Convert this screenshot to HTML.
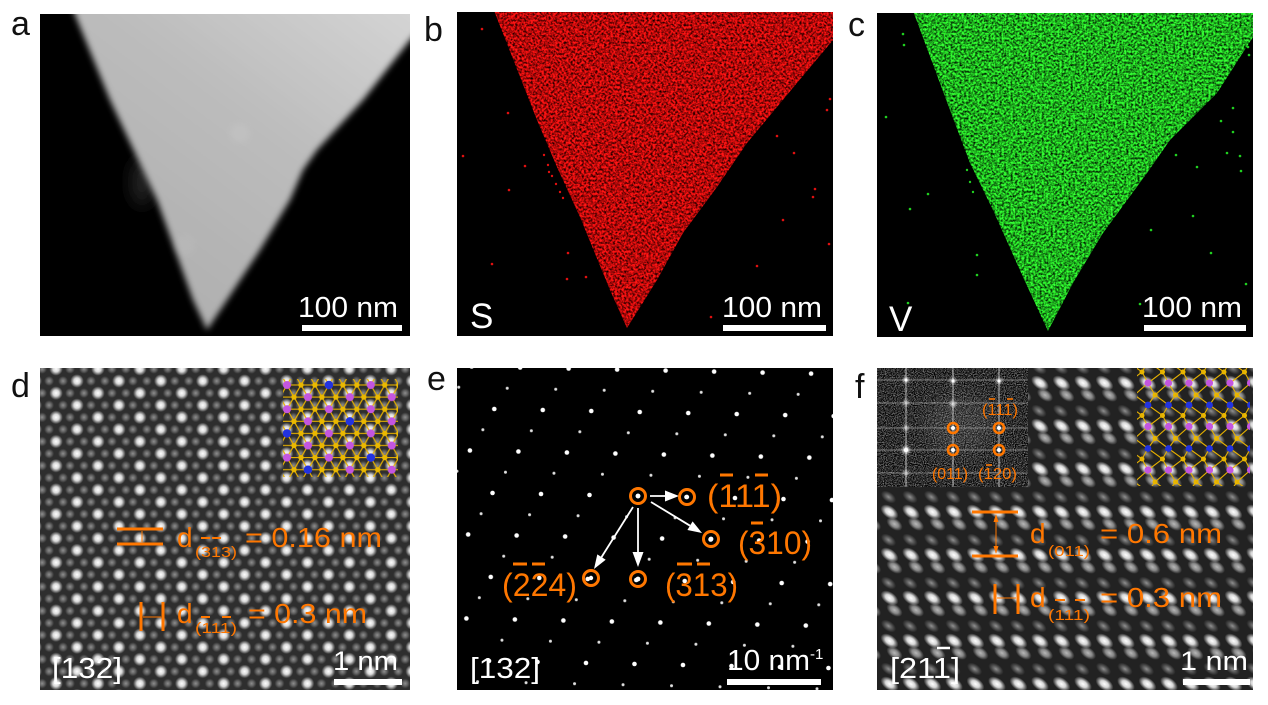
<!DOCTYPE html>
<html><head><meta charset="utf-8"><style>
html,body{margin:0;padding:0;background:#fff;}
svg{display:block;}
text{font-family:"Liberation Sans",Arial,sans-serif;}
</style></head><body>
<svg width="1268" height="705" viewBox="0 0 1268 705" xmlns="http://www.w3.org/2000/svg" xmlns:xlink="http://www.w3.org/1999/xlink">
<defs>
 <filter id="fa" filterUnits="userSpaceOnUse" x="30" y="0" width="400" height="350"><feGaussianBlur stdDeviation="3.2"/></filter>
 <filter id="fa2" filterUnits="userSpaceOnUse" x="30" y="0" width="400" height="350"><feGaussianBlur stdDeviation="8"/></filter>
 <linearGradient id="ga" x1="0.2" y1="1" x2="1" y2="0">
  <stop offset="0" stop-color="#adadad"/><stop offset="0.55" stop-color="#bcbcbc"/><stop offset="1" stop-color="#d6d6d6"/>
 </linearGradient>
 <clipPath id="ca"><rect x="40" y="14" width="370" height="322"/></clipPath>

 <filter id="fr" filterUnits="userSpaceOnUse" x="457" y="12" width="376" height="324" color-interpolation-filters="sRGB">
  <feTurbulence type="fractalNoise" baseFrequency="0.45" numOctaves="2" seed="7" result="t"/>
  <feColorMatrix in="t" type="matrix" values="2.0 0 0 0 -0.3  0.2 0 0 0 -0.06  0.2 0 0 0 -0.06  0 0 0 0 1" result="c"/>
  <feComposite in="c" in2="SourceAlpha" operator="in"/>
 </filter>
 <filter id="fg" filterUnits="userSpaceOnUse" x="877" y="13" width="376" height="324" color-interpolation-filters="sRGB">
  <feTurbulence type="fractalNoise" baseFrequency="0.45" numOctaves="2" seed="11" result="t"/>
  <feColorMatrix in="t" type="matrix" values="0.4 0 0 0 -0.08  2.0 0 0 0 -0.32  0.4 0 0 0 -0.08  0 0 0 0 1" result="c"/>
  <feComposite in="c" in2="SourceAlpha" operator="in"/>
 </filter>
 <clipPath id="cb"><rect x="457" y="12" width="376" height="324"/></clipPath>
 <clipPath id="cc"><rect x="877" y="13" width="376" height="324"/></clipPath>

 <radialGradient id="gB"><stop offset="0" stop-color="#ffffff"/><stop offset="0.45" stop-color="#ececec" stop-opacity="0.9"/><stop offset="1" stop-color="#dddddd" stop-opacity="0"/></radialGradient>
 <radialGradient id="gM"><stop offset="0" stop-color="#b8b8b8"/><stop offset="0.5" stop-color="#a2a2a2" stop-opacity="0.8"/><stop offset="1" stop-color="#999999" stop-opacity="0"/></radialGradient>
 <radialGradient id="gMd"><stop offset="0" stop-color="#909090"/><stop offset="0.5" stop-color="#7a7a7a" stop-opacity="0.7"/><stop offset="1" stop-color="#707070" stop-opacity="0"/></radialGradient>
 <radialGradient id="gF"><stop offset="0" stop-color="#909090"/><stop offset="1" stop-color="#808080" stop-opacity="0"/></radialGradient>

 <pattern id="pd" patternUnits="userSpaceOnUse" x="70" y="375" width="41.9" height="24.2">
  <rect width="41.9" height="24.2" fill="#2e2e2e"/>
  <circle cx="20.97" cy="6" r="5" fill="url(#gMd)"/>
  <circle cx="34.93" cy="6" r="5" fill="url(#gMd)"/>
  <circle cx="13.98" cy="18.1" r="5" fill="url(#gMd)"/>
  <circle cx="0" cy="18.1" r="5" fill="url(#gMd)"/>
  <circle cx="41.9" cy="18.1" r="5" fill="url(#gMd)"/>
  <circle cx="7" cy="6" r="6.8" fill="url(#gB)"/>
  <circle cx="7" cy="30.2" r="6.8" fill="url(#gB)"/>
  <circle cx="27.95" cy="18.1" r="6.8" fill="url(#gB)"/>
  <circle cx="27.95" cy="-6.1" r="6.8" fill="url(#gB)"/>
 </pattern>

 <pattern id="pf" patternUnits="userSpaceOnUse" x="1034" y="375" width="21.5" height="43">
  <rect width="21.5" height="43" fill="#222222"/>
  <g id="fcell">
   <ellipse cx="5" cy="36" rx="8.5" ry="5" transform="rotate(35 5 36)" fill="url(#gF)"/>
   <ellipse cx="11" cy="20" rx="9" ry="5.5" transform="rotate(35 11 20)" fill="url(#gM)"/>
   <ellipse cx="6" cy="8" rx="10" ry="6" transform="rotate(35 6 8)" fill="url(#gB)"/>
  </g>
  <use href="#fcell" xlink:href="#fcell" x="21.5"/>
  <use href="#fcell" xlink:href="#fcell" x="-21.5"/>
  <use href="#fcell" xlink:href="#fcell" y="43"/>
  <use href="#fcell" xlink:href="#fcell" y="-43"/>
  <use href="#fcell" xlink:href="#fcell" x="21.5" y="-43"/>
  <use href="#fcell" xlink:href="#fcell" x="-21.5" y="43"/>
 </pattern>

 <pattern id="pe" patternUnits="userSpaceOnUse" x="632" y="486" width="48.5" height="84" patternTransform="rotate(1.2 638 496)">
  <circle cx="6" cy="10" r="2.3" fill="#fff"/>
  <circle cx="31" cy="52" r="2.3" fill="#fff"/>
  <circle cx="18.5" cy="73" r="1.5" fill="#e0e0e0"/>
  <circle cx="43.5" cy="31" r="1.5" fill="#e0e0e0"/>
 </pattern>

 <pattern id="pdx" patternUnits="userSpaceOnUse" x="280" y="379" width="41.9" height="24.2">
  <g stroke="#e6b000" stroke-width="1.2">
   <line x1="-5" y1="6" x2="47" y2="6"/>
   <line x1="-5" y1="18.1" x2="47" y2="18.1"/>
   <line x1="-11.01" y1="-1" x2="4.11" y2="25.2"/>
   <line x1="2.96" y1="-1" x2="18.08" y2="25.2"/>
   <line x1="16.93" y1="-1" x2="32.05" y2="25.2"/>
   <line x1="30.9" y1="-1" x2="46.02" y2="25.2"/>
   <line x1="11.04" y1="-1" x2="-4.08" y2="25.2"/>
   <line x1="25.01" y1="-1" x2="9.89" y2="25.2"/>
   <line x1="38.98" y1="-1" x2="23.86" y2="25.2"/>
   <line x1="52.95" y1="-1" x2="37.83" y2="25.2"/>
  </g>
  <circle cx="20.97" cy="6" r="2.7" fill="#eab800"/>
  <circle cx="34.93" cy="6" r="2.7" fill="#eab800"/>
  <circle cx="0" cy="18.1" r="2.7" fill="#eab800"/>
  <circle cx="13.98" cy="18.1" r="2.7" fill="#eab800"/>
  <circle cx="41.9" cy="18.1" r="2.7" fill="#eab800"/>
  <circle cx="7" cy="6" r="4" fill="#c455e0"/>
  <circle cx="27.95" cy="18.1" r="4" fill="#c455e0"/>
 </pattern>
 <clipPath id="cdx"><rect x="283" y="379" width="115" height="98"/></clipPath>

 <pattern id="pfx" patternUnits="userSpaceOnUse" x="1138" y="372" width="20.5" height="43.5">
  <g id="fxc">
   <g stroke="#e6b000" stroke-width="1.1">
    <line x1="4" y1="0" x2="10" y2="11"/>
    <line x1="24.5" y1="0" x2="10" y2="11"/>
    <line x1="10" y1="11" x2="17" y2="23"/>
    <line x1="10" y1="11" x2="-3.5" y2="23"/>
    <line x1="17" y1="23" x2="10" y2="33"/>
    <line x1="-3.5" y1="23" x2="10" y2="33"/>
    <line x1="10" y1="33" x2="4" y2="43.5"/>
    <line x1="10" y1="33" x2="24.5" y2="43.5"/>
   </g>
   <circle cx="4" cy="0" r="2.5" fill="#eab800"/>
   <circle cx="4" cy="43.5" r="2.5" fill="#eab800"/>
   <circle cx="17" cy="23" r="2.5" fill="#eab800"/>
   <circle cx="10" cy="11" r="3.6" fill="#c455e0"/>
   <circle cx="10" cy="33" r="3.4" fill="#2233e0"/>
  </g>
  <use href="#fxc" xlink:href="#fxc" x="20.5"/>
  <use href="#fxc" xlink:href="#fxc" x="-20.5"/>
 </pattern>
 <clipPath id="cfx"><rect x="1137" y="368" width="113" height="118"/></clipPath>

 <filter id="fn" filterUnits="userSpaceOnUse" x="877" y="368" width="151" height="119" color-interpolation-filters="sRGB">
  <feTurbulence type="fractalNoise" baseFrequency="0.9" numOctaves="1" seed="2"/>
  <feColorMatrix type="matrix" values="1.3 0 0 0 -0.47  1.3 0 0 0 -0.47  1.3 0 0 0 -0.47  0 0 0 0 1"/>
 </filter>
 <filter id="fglow" x="-100%" y="-100%" width="300%" height="300%"><feGaussianBlur stdDeviation="1.5"/></filter>
 <filter id="fsoft" x="-50%" y="-50%" width="200%" height="200%"><feGaussianBlur stdDeviation="10"/></filter>
</defs>

<rect width="1268" height="705" fill="#fff"/>

<!-- Panel labels -->
<g font-size="34" fill="#111">
 <text x="11" y="35">a</text>
 <text x="424" y="41">b</text>
 <text x="848" y="36">c</text>
 <text x="11" y="397">d</text>
 <text x="427" y="390">e</text>
 <text x="855" y="398">f</text>
</g>

<!-- Panel a -->
<rect x="40" y="14" width="370" height="322" fill="#000"/>
<g clip-path="url(#ca)">
 <ellipse cx="142" cy="182" rx="10" ry="24" fill="#262626" filter="url(#fa2)"/>
 <polygon filter="url(#fa)" fill="url(#ga)" points="69,0 420,0 420,30 410,40 363,100 317,150 303,170 290,200 260,250 227,300 207,330 193,300 157,200 110,100"/>
 <circle cx="240" cy="133" r="10" fill="#d0d0d0" opacity="0.25" filter="url(#fa)"/>
 <circle cx="185" cy="245" r="10" fill="#c8c8c8" opacity="0.2" filter="url(#fa)"/>
</g>
<text x="298" y="317" font-size="29" fill="#fff" textLength="100" lengthAdjust="spacingAndGlyphs">100 nm</text>
<rect x="302" y="325" width="100" height="6" fill="#fff"/>

<!-- Panel b -->
<rect x="457" y="12" width="376" height="324" fill="#000"/>
<g clip-path="url(#cb)">
 <polygon fill="#fff" filter="url(#fr)" points="493,8 840,8 840,36 833,40 797,83 747,143 717,187 683,233 657,280 627,328 610,290 580,217 557,167 537,120"/>
 <g fill="#e01010">
  <circle cx="482" cy="29" r="1.3"/><circle cx="508" cy="113" r="1.3"/><circle cx="463" cy="156" r="1.3"/>
  <circle cx="525" cy="166" r="1.3"/><circle cx="509" cy="190" r="1.3"/><circle cx="568" cy="253" r="1.3"/>
  <circle cx="492" cy="264" r="1.3"/><circle cx="567" cy="279" r="1.3"/><circle cx="586" cy="277" r="1.3"/>
  <circle cx="830" cy="99" r="1.3"/><circle cx="827" cy="110" r="1.3"/><circle cx="777" cy="136" r="1.3"/>
  <circle cx="794" cy="153" r="1.3"/><circle cx="815" cy="189" r="1.3"/><circle cx="813" cy="197" r="1.3"/>
  <circle cx="783" cy="220" r="1.3"/><circle cx="829" cy="244" r="1.3"/><circle cx="757" cy="266" r="1.3"/>
  <circle cx="711" cy="317" r="1.3"/><circle cx="544" cy="155" r="1.2"/><circle cx="548" cy="165" r="1.2"/>
  <circle cx="552" cy="176" r="1.2"/><circle cx="556" cy="184" r="1.2"/><circle cx="560" cy="192" r="1.2"/>
  <circle cx="549" cy="172" r="1.2"/><circle cx="563" cy="198" r="1.2"/>
 </g>
</g>
<text x="470" y="328" font-size="35" fill="#fff">S</text>
<text x="722" y="317" font-size="29" fill="#fff" textLength="100" lengthAdjust="spacingAndGlyphs">100 nm</text>
<rect x="723" y="325" width="103" height="6" fill="#fff"/>

<!-- Panel c -->
<rect x="877" y="13" width="376" height="324" fill="#000"/>
<g clip-path="url(#cc)">
 <polygon fill="#fff" filter="url(#fg)" points="912,8 1260,8 1260,33 1253,37 1217,93 1170,140 1147,173 1103,233 1073,283 1048,331 1023,277 993,210 970,163 950,110"/>
 <g fill="#20d020">
  <circle cx="903" cy="34" r="1.3"/><circle cx="904" cy="45" r="1.3"/><circle cx="886" cy="117" r="1.3"/>
  <circle cx="928" cy="194" r="1.3"/><circle cx="910" cy="209" r="1.3"/><circle cx="977" cy="255" r="1.3"/>
  <circle cx="977" cy="275" r="1.3"/><circle cx="908" cy="303" r="1.3"/><circle cx="1233" cy="108" r="1.3"/>
  <circle cx="1221" cy="121" r="1.3"/><circle cx="1233" cy="132" r="1.3"/><circle cx="1227" cy="153" r="1.3"/>
  <circle cx="1240" cy="156" r="1.3"/><circle cx="1241" cy="171" r="1.3"/><circle cx="1197" cy="167" r="1.3"/>
  <circle cx="1176" cy="155" r="1.3"/><circle cx="1193" cy="216" r="1.3"/><circle cx="1151" cy="230" r="1.3"/>
  <circle cx="1211" cy="253" r="1.3"/><circle cx="1246" cy="284" r="1.3"/><circle cx="1140" cy="304" r="1.3"/>
  <circle cx="1248" cy="47" r="1.3"/><circle cx="1249" cy="55" r="1.3"/><circle cx="967" cy="170" r="1.2"/>
  <circle cx="970" cy="182" r="1.2"/><circle cx="973" cy="192" r="1.2"/>
 </g>
</g>
<text x="889" y="331" font-size="35" fill="#fff">V</text>
<text x="1142" y="317" font-size="29" fill="#fff" textLength="100" lengthAdjust="spacingAndGlyphs">100 nm</text>
<rect x="1144" y="325" width="102" height="6" fill="#fff"/>

<!-- Panel d -->
<rect x="40" y="368" width="370" height="322" fill="url(#pd)"/>
<g clip-path="url(#cdx)">
 <rect x="283" y="379" width="115" height="98" fill="url(#pdx)"/>
 <g fill="#2233e0">
  <circle cx="328.9" cy="385" r="4.2"/>
  <circle cx="349.85" cy="421.3" r="4.2"/>
  <circle cx="287" cy="433.4" r="4.2"/>
  <circle cx="370.8" cy="457.6" r="4.2"/>
  <circle cx="307.95" cy="469.7" r="4.2"/>
 </g>
</g>
<g stroke="#ff7700" fill="none">
 <line x1="117" y1="529" x2="163" y2="529" stroke-width="3"/>
 <line x1="117" y1="544" x2="163" y2="544" stroke-width="3"/>
 <line x1="142" y1="531" x2="142" y2="542" stroke-width="1"/>
 <line x1="141" y1="602" x2="141" y2="631" stroke-width="3"/>
 <line x1="163" y1="602" x2="163" y2="631" stroke-width="3"/>
 <line x1="143" y1="617" x2="161" y2="617" stroke-width="1"/>
 <line x1="201" y1="538" x2="210" y2="538" stroke-width="2"/>
 <line x1="212" y1="538" x2="221" y2="538" stroke-width="2"/>
 <line x1="201" y1="617" x2="210" y2="617" stroke-width="2"/>
 <line x1="222" y1="617" x2="231" y2="617" stroke-width="2"/>
</g>
<g fill="#ff7700">
 <text x="177" y="547" font-size="28">d</text>
 <text x="195" y="557" font-size="15" textLength="42" lengthAdjust="spacingAndGlyphs">(313)</text>
 <text x="245" y="547" font-size="28" textLength="137" lengthAdjust="spacingAndGlyphs">= 0.16 nm</text>
 <text x="177" y="623" font-size="28">d</text>
 <text x="195" y="633" font-size="15" textLength="42" lengthAdjust="spacingAndGlyphs">(111)</text>
 <text x="248" y="623" font-size="28" textLength="119" lengthAdjust="spacingAndGlyphs">= 0.3 nm</text>
</g>
<text x="52" y="678" font-size="29" fill="#fff" textLength="70" lengthAdjust="spacingAndGlyphs">[132]</text>
<text x="333" y="670" font-size="27" fill="#fff" textLength="65" lengthAdjust="spacingAndGlyphs">1 nm</text>
<rect x="334" y="679" width="68" height="6" fill="#fff"/>

<!-- Panel e -->
<rect x="457" y="368" width="376" height="322" fill="#000"/>
<rect x="457" y="368" width="376" height="322" fill="url(#pe)"/>
<g fill="#fff">
 <circle cx="638" cy="496" r="2.4"/><circle cx="687" cy="497" r="2.2"/><circle cx="711" cy="539" r="2.4"/>
 <circle cx="638" cy="579" r="2.4"/><circle cx="591" cy="578" r="2.2"/>
</g>
<g stroke="#fff" stroke-width="1.8" fill="none">
 <line x1="650" y1="496" x2="668" y2="496"/>
 <line x1="651" y1="502" x2="690" y2="525.7"/>
 <line x1="638" y1="508" x2="638" y2="553"/>
 <line x1="633" y1="507" x2="601.5" y2="557.1"/>
</g>
<g fill="#fff">
 <polygon points="679,496 665,490.5 665,501.5"/>
 <polygon points="702,533 687.4,530 692.6,521.4"/>
 <polygon points="638,567 632.5,552 643.5,552"/>
 <polygon points="594,569 597.3,554.4 605.7,559.8"/>
</g>
<g stroke="#ff7700" stroke-width="3" fill="none">
 <circle cx="638" cy="496" r="7.5"/>
 <circle cx="687" cy="497" r="7.5"/>
 <circle cx="711" cy="539" r="7.5"/>
 <circle cx="638" cy="579" r="7.5"/>
 <circle cx="591" cy="578" r="7.5"/>
 <line x1="720" y1="475" x2="733" y2="475"/>
 <line x1="755" y1="475" x2="768" y2="475"/>
 <line x1="751" y1="523" x2="763" y2="523"/>
 <line x1="677" y1="564" x2="692" y2="564"/>
 <line x1="697" y1="564" x2="710" y2="564"/>
 <line x1="513" y1="564" x2="527" y2="564"/>
 <line x1="532" y1="564" x2="545" y2="564"/>
</g>
<g fill="#ff7700" font-size="32">
 <text x="707" y="507" textLength="75" lengthAdjust="spacingAndGlyphs">(111)</text>
 <text x="738" y="554" textLength="74" lengthAdjust="spacingAndGlyphs">(310)</text>
 <text x="665" y="596" textLength="73" lengthAdjust="spacingAndGlyphs">(313)</text>
 <text x="502" y="596" textLength="75" lengthAdjust="spacingAndGlyphs">(224)</text>
</g>
<text x="470" y="678" font-size="29" fill="#fff" textLength="70" lengthAdjust="spacingAndGlyphs">[132]</text>
<text x="727" y="670" font-size="29" fill="#fff" textLength="83" lengthAdjust="spacingAndGlyphs">10 nm</text>
<text x="810" y="659" font-size="15" fill="#fff">-1</text>
<rect x="727" y="679" width="94" height="6" fill="#fff"/>

<!-- Panel f -->
<rect x="877" y="368" width="376" height="322" fill="url(#pf)"/>
<g clip-path="url(#cfx)">
 <rect x="1137" y="368" width="113" height="118" fill="url(#pfx)"/>
</g>
<!-- FFT inset -->
<rect x="877" y="368" width="151" height="119" fill="#fff" filter="url(#fn)"/>
<ellipse cx="960" cy="425" rx="35" ry="30" fill="#fff" opacity="0.10" filter="url(#fsoft)"/>
<g stroke="#d0d0d0" stroke-width="1.2" opacity="0.75">
 <line x1="906" y1="368" x2="906" y2="487"/>
 <line x1="953" y1="368" x2="953" y2="487"/>
 <line x1="999" y1="368" x2="999" y2="487"/>
</g>
<g stroke="#c0c0c0" stroke-width="1" opacity="0.55">
 <line x1="877" y1="380" x2="1028" y2="380"/>
 <line x1="877" y1="403" x2="1028" y2="403"/>
 <line x1="877" y1="428" x2="1028" y2="428"/>
 <line x1="877" y1="450" x2="1028" y2="450"/>
 <line x1="877" y1="473" x2="1028" y2="473"/>
</g>
<g fill="#fff">
 <circle cx="906" cy="380" r="2.5" filter="url(#fglow)"/><circle cx="953" cy="381" r="2.5" filter="url(#fglow)"/>
 <circle cx="999" cy="381" r="2.5" filter="url(#fglow)"/><circle cx="906" cy="403" r="2.2" filter="url(#fglow)"/>
 <circle cx="953" cy="404" r="2.5" filter="url(#fglow)"/><circle cx="906" cy="428" r="2.2" filter="url(#fglow)"/>
 <circle cx="906" cy="450" r="3.5" filter="url(#fglow)"/><circle cx="906" cy="473" r="2.2" filter="url(#fglow)"/>
 <circle cx="906" cy="380" r="1.5"/><circle cx="953" cy="381" r="1.5"/><circle cx="999" cy="381" r="1.5"/>
 <circle cx="906" cy="450" r="2"/>
 <circle cx="953" cy="428" r="2"/><circle cx="999" cy="428" r="2"/><circle cx="953" cy="450" r="2"/><circle cx="999" cy="450" r="2"/>
</g>
<g stroke="#ff7700" stroke-width="2.6" fill="none">
 <circle cx="953" cy="428" r="5"/><circle cx="999" cy="428" r="5"/>
 <circle cx="953" cy="450" r="5"/><circle cx="999" cy="450" r="5"/>
</g>
<g stroke="#ff7700" stroke-width="1.6">
 <line x1="989" y1="399" x2="995" y2="399"/>
 <line x1="1007" y1="399" x2="1013" y2="399"/>
 <line x1="986" y1="465" x2="992" y2="465"/>
</g>
<g fill="#ff7700" font-size="16">
 <text x="982" y="415" textLength="36" lengthAdjust="spacingAndGlyphs">(111)</text>
 <text x="932" y="479" textLength="36" lengthAdjust="spacingAndGlyphs">(011)</text>
 <text x="978" y="479" textLength="39" lengthAdjust="spacingAndGlyphs">(120)</text>
</g>
<!-- f markers -->
<g stroke="#ff7700" fill="none">
 <line x1="972" y1="512" x2="1018" y2="512" stroke-width="3"/>
 <line x1="972" y1="556" x2="1018" y2="556" stroke-width="3"/>
 <line x1="996" y1="515" x2="996" y2="553" stroke-width="1"/>
 <line x1="995" y1="584" x2="995" y2="614" stroke-width="3"/>
 <line x1="1018" y1="584" x2="1018" y2="614" stroke-width="3"/>
 <line x1="997" y1="598" x2="1016" y2="598" stroke-width="1"/>
 <line x1="1055" y1="600" x2="1065" y2="600" stroke-width="2"/>
 <line x1="1075" y1="600" x2="1085" y2="600" stroke-width="2"/>
</g>
<g fill="#ff7700">
 <polygon points="996,514 993.5,522 998.5,522"/>
 <polygon points="996,554 993.5,546 998.5,546"/>
 <text x="1030" y="543" font-size="28">d</text>
 <text x="1048" y="556" font-size="15" textLength="42" lengthAdjust="spacingAndGlyphs">(011)</text>
 <text x="1100" y="543" font-size="28" textLength="122" lengthAdjust="spacingAndGlyphs">= 0.6 nm</text>
 <text x="1030" y="607" font-size="28">d</text>
 <text x="1048" y="620" font-size="15" textLength="42" lengthAdjust="spacingAndGlyphs">(111)</text>
 <text x="1100" y="607" font-size="28" textLength="122" lengthAdjust="spacingAndGlyphs">= 0.3 nm</text>
</g>
<text x="890" y="678" font-size="29" fill="#fff" textLength="70" lengthAdjust="spacingAndGlyphs">[211]</text>
<line x1="937" y1="648" x2="950" y2="648" stroke="#fff" stroke-width="2.5"/>
<text x="1180" y="670" font-size="27" fill="#fff" textLength="68" lengthAdjust="spacingAndGlyphs">1 nm</text>
<rect x="1183" y="679" width="67" height="6" fill="#fff"/>
</svg>
</body></html>
